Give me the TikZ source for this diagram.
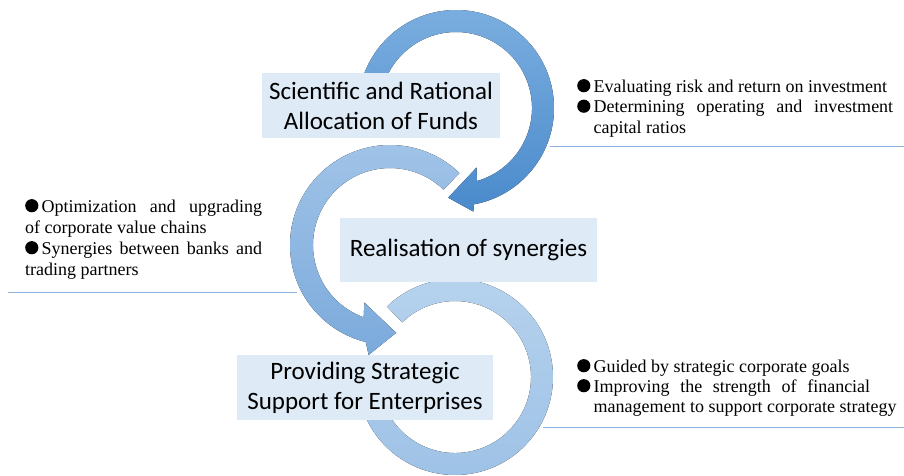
\documentclass[tikz,border=0pt]{standalone}
\usepackage{fontspec}
\setmainfont{Liberation Serif}
\newfontfamily\boxfont{Carlito}
\definecolor{rAtop}{HTML}{7CAFE0}
\definecolor{rAbot}{HTML}{4A8ACB}
\definecolor{rBtop}{HTML}{A2C4E8}
\definecolor{rBbot}{HTML}{7BAADB}
\definecolor{rCtop}{HTML}{B7D3EE}
\definecolor{rCbot}{HTML}{9DC1E6}
\definecolor{boxfill}{HTML}{DEEAF6}
\definecolor{sepline}{HTML}{8EB1E0}
\newcommand\mybul{\makebox[16.5pt][l]{\tikz[baseline=0pt]\fill[black] (7pt,6.3pt) circle[radius=6.6pt];}}
\newcommand\nobul{\hspace*{16.5pt}}
\begin{document}
\begin{tikzpicture}[x=1pt,y=-1pt,
  mainbox/.style={fill=boxfill, inner sep=0pt, align=center, text=black,
    font=\boxfont\fontsize{25}{30}\selectfont},
  txt/.style={anchor=base west, inner sep=0pt, text=black, font=\fontsize{18}{20}\selectfont},
  sep/.style={draw=sepline, line width=1pt}]
\useasboundingbox (0,0) rectangle (904,475);
% ring 3 (bottom)
\begin{scope}[shift={(455,377)}]
\fill[top color=rCtop, bottom color=rCbot]
  (-134:98) arc[start angle=-134, end angle=165, radius=98]
  -- (165:76) arc[start angle=165, end angle=-134, radius=76] -- cycle;
\end{scope}
% ring 2 (middle)
\begin{scope}[shift={(390,245)}]
\fill[top color=rBtop, bottom color=rBbot]
  (-46:100) arc[start angle=-46, end angle=-256, radius=100]
  -- (-259:112) -- (-274:88) -- (-246:63) -- (-250:77)
  arc[start angle=-250, end angle=-46, radius=77] -- cycle;
\end{scope}
% ring 1 (top)
\begin{scope}[shift={(456,108)}]
\fill[top color=rAtop, bottom color=rAbot]
  (170:98) arc[start angle=170, end angle=439.5, radius=98]
  -- (440.5:105) -- (455:90) -- (431:63) -- (434:76)
  arc[start angle=434, end angle=170, radius=76] -- cycle;
\end{scope}
% boxes
\node[mainbox, minimum width=238pt, minimum height=65pt] (b1) at (381,105.5)
  {Scientific and Rational\\Allocation of Funds};
\node[mainbox, minimum width=257pt, minimum height=64pt] (b2) at (468.5,250)
  {Realisation of synergies};
\node[mainbox, minimum width=256pt, minimum height=65pt] (b3) at (365,387.5)
  {Providing Strategic\\Support for Enterprises};
% separator lines
\coordinate (l1a) at (550,146); \coordinate (l1b) at (904,146);
\coordinate (l2a) at (8,292);   \coordinate (l2b) at (297,292);
\coordinate (l3a) at (543,427); \coordinate (l3b) at (904,427);
\draw[sep] (l1a) -- (l1b);
\draw[sep] (l2a) -- (l2b);
\draw[sep] (l3a) -- (l3b);
% text block 1
\node[txt] (t1a) at (577,92) {\mybul Evaluating risk and return on investment};
\node[txt] (t1b) at (577,112.5) {\makebox[316pt][s]{\mybul Determining operating and investment}};
\node[txt] (t1c) at (577,133) {\nobul capital ratios};
% text block 2
\node[txt] (t2a) at (25,212) {\makebox[237pt][s]{\mybul Optimization and upgrading}};
\node[txt] (t2b) at (25,233) {of corporate value chains};
\node[txt] (t2c) at (25,254) {\makebox[237pt][s]{\mybul Synergies between banks and}};
\node[txt] (t2d) at (25,275) {trading partners};
% text block 3
\node[txt] (t3a) at (577,372) {\mybul Guided by strategic corporate goals};
\node[txt] (t3b) at (577,392) {\makebox[293pt][s]{\mybul Improving the strength of financial}};
\node[txt] (t3c) at (577,412) {\nobul management to support corporate strategy};
\end{tikzpicture}
\end{document}
